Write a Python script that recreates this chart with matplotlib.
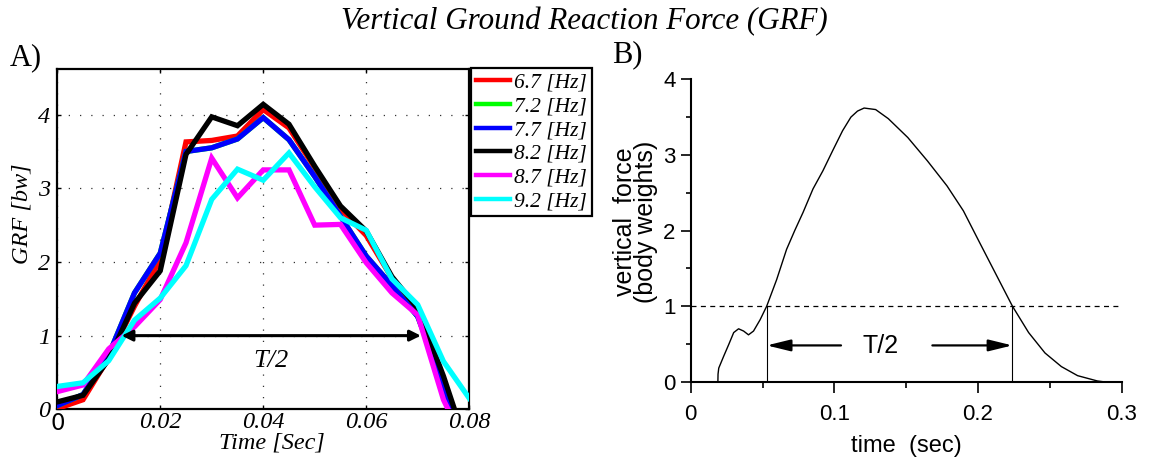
import matplotlib
matplotlib.use("Agg")
import matplotlib.pyplot as plt
from matplotlib.lines import Line2D

# ---------------- data: panel A ----------------
time_a = [0.0, 0.005, 0.01, 0.015, 0.02, 0.025, 0.03, 0.035, 0.04,
          0.045, 0.05, 0.055, 0.06, 0.065, 0.07, 0.075, 0.08]
grf_67 = [0.01, 0.13, 0.70, 1.40, 2.03, 3.63, 3.65, 3.71, 4.07,
          3.82, 3.28, 2.72, 2.36, 1.78, 1.33, 0.25, -0.90]
grf_72 = [0.05, 0.20, 0.74, 1.58, 2.12, 3.50, 3.55, 3.67, 3.96,
          3.66, 3.16, 2.62, 2.08, 1.68, 1.26, 0.35, -0.80]
grf_77 = [0.05, 0.20, 0.74, 1.58, 2.12, 3.50, 3.55, 3.67, 3.96,
          3.66, 3.16, 2.62, 2.08, 1.68, 1.26, 0.35, -0.80]
grf_82 = [0.10, 0.19, 0.68, 1.44, 1.88, 3.46, 3.97, 3.85, 4.14,
          3.87, 3.30, 2.76, 2.42, 1.80, 1.37, 0.45, -0.60]
grf_87 = [0.24, 0.33, 0.82, 1.12, 1.49, 2.26, 3.41, 2.87, 3.25,
          3.25, 2.50, 2.51, 1.99, 1.58, 1.28, 0.13, -0.60]
grf_92 = [0.31, 0.36, 0.66, 1.21, 1.51, 1.95, 2.85, 3.26, 3.11,
          3.48, 3.02, 2.60, 2.43, 1.77, 1.42, 0.65, 0.15]
series_labels = ["6.7 [Hz]", "7.2 [Hz]", "7.7 [Hz]", "8.2 [Hz]", "8.7 [Hz]", "9.2 [Hz]"]
series_colors = ["#ff0000", "#00ff00", "#0000ff", "#000000", "#ff00ff", "#00ffff"]
xticks_a = [0.0, 0.02, 0.04, 0.06, 0.08]
xticklabels_a = ["0", "0.02", "0.04", "0.06", "0.08"]
yticks_a = [0, 1, 2, 3, 4]
half_period_a = [0.0125, 0.0706]

# ---------------- data: panel B ----------------
time_b = [0.0189, 0.0190, 0.0195, 0.023, 0.0264, 0.0299, 0.0333, 0.0368, 0.0402,
          0.0437, 0.0483, 0.0529, 0.0598, 0.0667, 0.0724, 0.0782, 0.0851, 0.092,
          0.0989, 0.1057, 0.1115, 0.1161, 0.1207, 0.1287, 0.1375, 0.1511, 0.1648,
          0.1784, 0.1898, 0.2011, 0.2125, 0.2239, 0.2352, 0.2466, 0.258, 0.2693,
          0.283, 0.287]
force_b = [0.0, 0.10, 0.18, 0.34, 0.49, 0.65, 0.70, 0.67, 0.62,
           0.67, 0.82, 1.0, 1.35, 1.75, 2.0, 2.24, 2.55, 2.79,
           3.06, 3.32, 3.50, 3.58, 3.62, 3.60, 3.48, 3.23, 2.92,
           2.59, 2.26, 1.84, 1.42, 1.0, 0.65, 0.38, 0.20, 0.08,
           0.01, 0.0]
half_period_b = [0.0529, 0.2239]
xticks_b = [0.0, 0.1, 0.2, 0.3]
xticklabels_b = ["0", "0.1", "0.2", "0.3"]
yticks_b = [0, 1, 2, 3, 4]

SERIF = "Liberation Serif"
SANS = "Liberation Sans"

fig = plt.figure(figsize=(11.52, 4.59), dpi=100)

# ================= Panel A =================
axA = fig.add_axes([0.0497, 0.1083, 0.3576, 0.7414])
all_series = [grf_67, grf_72, grf_77, grf_82, grf_87, grf_92]
for vals, col in zip(all_series, series_colors):
    axA.plot(time_a, vals, color=col, lw=3.8, solid_joinstyle="miter", zorder=3)
axA.set_xlim(0, 0.08)
axA.set_ylim(0, 4.62)
axA.set_xticks(xticks_a)
axA.set_xticklabels(xticklabels_a)
axA.set_yticks(yticks_a)
axA.grid(True, color="#333333", linestyle=(0, (1, 8)), linewidth=0.9)
axA.tick_params(direction="in", length=3, width=1, top=True, right=True,
                labelsize=17.5, pad=2)
axA.tick_params(axis="y", pad=5)
for lab in axA.get_xticklabels() + axA.get_yticklabels():
    lab.set_fontfamily(SERIF)
    lab.set_fontstyle("italic")
first = axA.get_xticklabels()[0]
first.set_fontfamily("DejaVu Sans")
first.set_fontstyle("normal")
first.set_fontsize(16.5)
for s in axA.spines.values():
    s.set_linewidth(1.6)

axA.set_xlabel("Time [Sec]", family=SERIF, style="italic", fontsize=17.5)
axA.xaxis.set_label_coords(0.52, -0.099)
axA.xaxis.label.set_va("center")
axA.set_ylabel("GRF [bw]", family=SERIF, style="italic", fontsize=17.5)
axA.yaxis.set_label_coords(-0.086, 0.574)
axA.yaxis.label.set_va("center")

axA.annotate("", xy=(half_period_a[0], 1.0), xytext=(half_period_a[1], 1.0),
             arrowprops=dict(arrowstyle="<|-|>", color="black", lw=2.2,
                             mutation_scale=16, shrinkA=0, shrinkB=0), zorder=5)
axA.text((half_period_a[0] + half_period_a[1]) / 2, 0.65, "T/2",
         family=SERIF, style="italic", fontsize=19, ha="center", va="center")

handles = [Line2D([], [], color=c, lw=3.2) for c in series_colors]
leg = fig.legend(handles, series_labels, loc="upper left",
                 bbox_to_anchor=(471 / 1152, 1 - 68 / 459), borderaxespad=0,
                 frameon=True, fancybox=False, edgecolor="black", framealpha=1,
                 prop=dict(family=SERIF, style="italic", size=15.5),
                 handlelength=1.6, handletextpad=0.2, labelspacing=0.17,
                 borderpad=0.22)
leg.get_frame().set_linewidth(1.6)

# ================= Panel B =================
axB = fig.add_axes([0.5996, 0.1684, 0.3741, 0.6588])
axB.plot(time_b, force_b, color="black", lw=1.0)
axB.set_xlim(0, 0.3)
axB.set_ylim(0, 4)
axB.spines["top"].set_visible(False)
axB.spines["right"].set_visible(False)
for s in ("left", "bottom"):
    axB.spines[s].set_linewidth(1.5)
axB.set_xticks(xticks_b)
axB.set_xticklabels(xticklabels_b)
axB.set_xticks([0.05, 0.15, 0.25], minor=True)
axB.set_yticks(yticks_b)
axB.set_yticks([0.5, 1.5, 2.5, 3.5], minor=True)
axB.tick_params(axis="x", which="major", direction="out", length=8, width=1.2,
                labelsize=16, pad=8)
axB.tick_params(axis="x", which="minor", direction="out", length=4.5, width=1.2)
axB.tick_params(axis="y", which="major", direction="out", length=7, width=1.2,
                labelsize=16, pad=4)
axB.tick_params(axis="y", which="minor", direction="out", length=3.5, width=1.2)
for lab in axB.get_xticklabels() + axB.get_yticklabels():
    lab.set_fontfamily(SANS)

axB.plot([0, 0.2988], [1, 1], color="black", lw=0.9, linestyle=(0, (4, 3.5)))
for xv in half_period_b:
    axB.plot([xv, xv], [0, 1], color="black", lw=0.8)
axB.annotate("", xy=(half_period_b[0], 0.48), xytext=(0.1046, 0.48),
             arrowprops=dict(arrowstyle="-|>,head_length=0.9,head_width=0.22",
                             color="black", lw=1.6, mutation_scale=16,
                             shrinkA=0, shrinkB=0))
axB.annotate("", xy=(half_period_b[1], 0.48), xytext=(0.1682, 0.48),
             arrowprops=dict(arrowstyle="-|>,head_length=0.9,head_width=0.22",
                             color="black", lw=1.6, mutation_scale=16,
                             shrinkA=0, shrinkB=0))
axB.text(0.1323, 0.47, "T/2", family=SANS, fontsize=18, ha="center", va="center")

axB.set_xlabel("time  (sec)", family=SANS, fontsize=17)
axB.xaxis.set_label_coords(0.5, -0.213)
axB.xaxis.label.set_va("center")
axB.set_ylabel("vertical  force\n(body weights)", family=SANS, fontsize=18,
               linespacing=0.8)
axB.yaxis.set_label_coords(-0.128, 0.528)
axB.yaxis.label.set_va("center")

# ================= titles =================
fig.text(584.5 / 1152, 1 - 22 / 459, "Vertical Ground Reaction Force (GRF)",
         family=SERIF, style="italic", fontsize=22.3, ha="center", va="center")
fig.text(10 / 1152, 1 - 58 / 459, "A)", family=SERIF, fontsize=22,
         ha="left", va="center")
fig.text(612 / 1152, 1 - 55 / 459, "B)", family=SERIF, fontsize=22,
         ha="left", va="center")

fig.savefig("out.png", dpi=100)
